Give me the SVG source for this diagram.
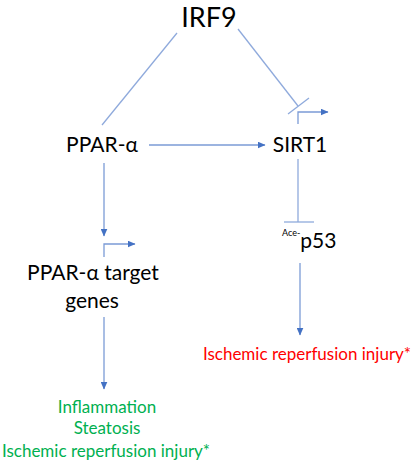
<svg xmlns="http://www.w3.org/2000/svg" width="413" height="463" viewBox="0 0 413 463">
<style>
text{font-family:Lato,"Liberation Sans",sans-serif;fill:#000}
.ln{stroke:#8faadc;stroke-width:1.3;fill:none}
.ar{stroke:#7b9bd6;stroke-width:1.3;fill:none;marker-end:url(#ah)}
.g{fill:#00b050;font-size:17px;text-anchor:middle}
.r{fill:#ff0000;font-size:17px;text-anchor:middle}
</style>
<defs>
<marker id="ah" markerWidth="8" markerHeight="7" refX="7.5" refY="3.5" orient="auto" markerUnits="userSpaceOnUse">
<path d="M0,0 L8,3.5 L0,7 Z" fill="#4472c4"/>
</marker>
</defs>
<rect width="413" height="463" fill="#fff"/>
<g id="connectors">
<line class="ln" x1="177" y1="33" x2="102" y2="125"/>
<line class="ln" x1="238" y1="29" x2="298" y2="106"/>
<line class="ln" x1="288" y1="114" x2="309" y2="98"/>
<path class="ar" d="M298,124 V112 H328"/>
<line class="ar" x1="149" y1="145" x2="265" y2="145"/>
<line class="ar" x1="104" y1="163" x2="104" y2="236"/>
<path class="ar" d="M104,257 V244 H135"/>
<line class="ar" x1="104" y1="317" x2="104" y2="389"/>
<line class="ln" x1="298" y1="159" x2="298" y2="222"/>
<line class="ln" x1="284" y1="222" x2="314" y2="222"/>
<line class="ar" x1="300" y1="263" x2="300" y2="335"/>
</g>
<g id="irf9"><text x="209" y="27" font-size="27" text-anchor="middle">IRF9</text></g>
<g id="ppara"><text x="102" y="152" font-size="21" text-anchor="middle">PPAR-α</text></g>
<g id="sirt1"><text x="300" y="152" font-size="21" text-anchor="middle">SIRT1</text></g>
<g id="targets"><text x="93" y="280" font-size="21" text-anchor="middle">PPAR-α target</text><text x="92" y="308" font-size="21" text-anchor="middle">genes</text></g>
<g id="p53"><text x="282" y="248"><tspan font-size="9" dy="-12">Ace-</tspan><tspan font-size="21" dy="12">p53</tspan></text></g>
<g id="outcome-left"><text class="g" x="107" y="413">Inflammation</text><text class="g" x="107" y="434">Steatosis</text><text class="g" x="106" y="457">Ischemic reperfusion injury*</text></g>
<g id="outcome-right"><text class="r" x="307" y="360">Ischemic reperfusion injury*</text></g>
</svg>
